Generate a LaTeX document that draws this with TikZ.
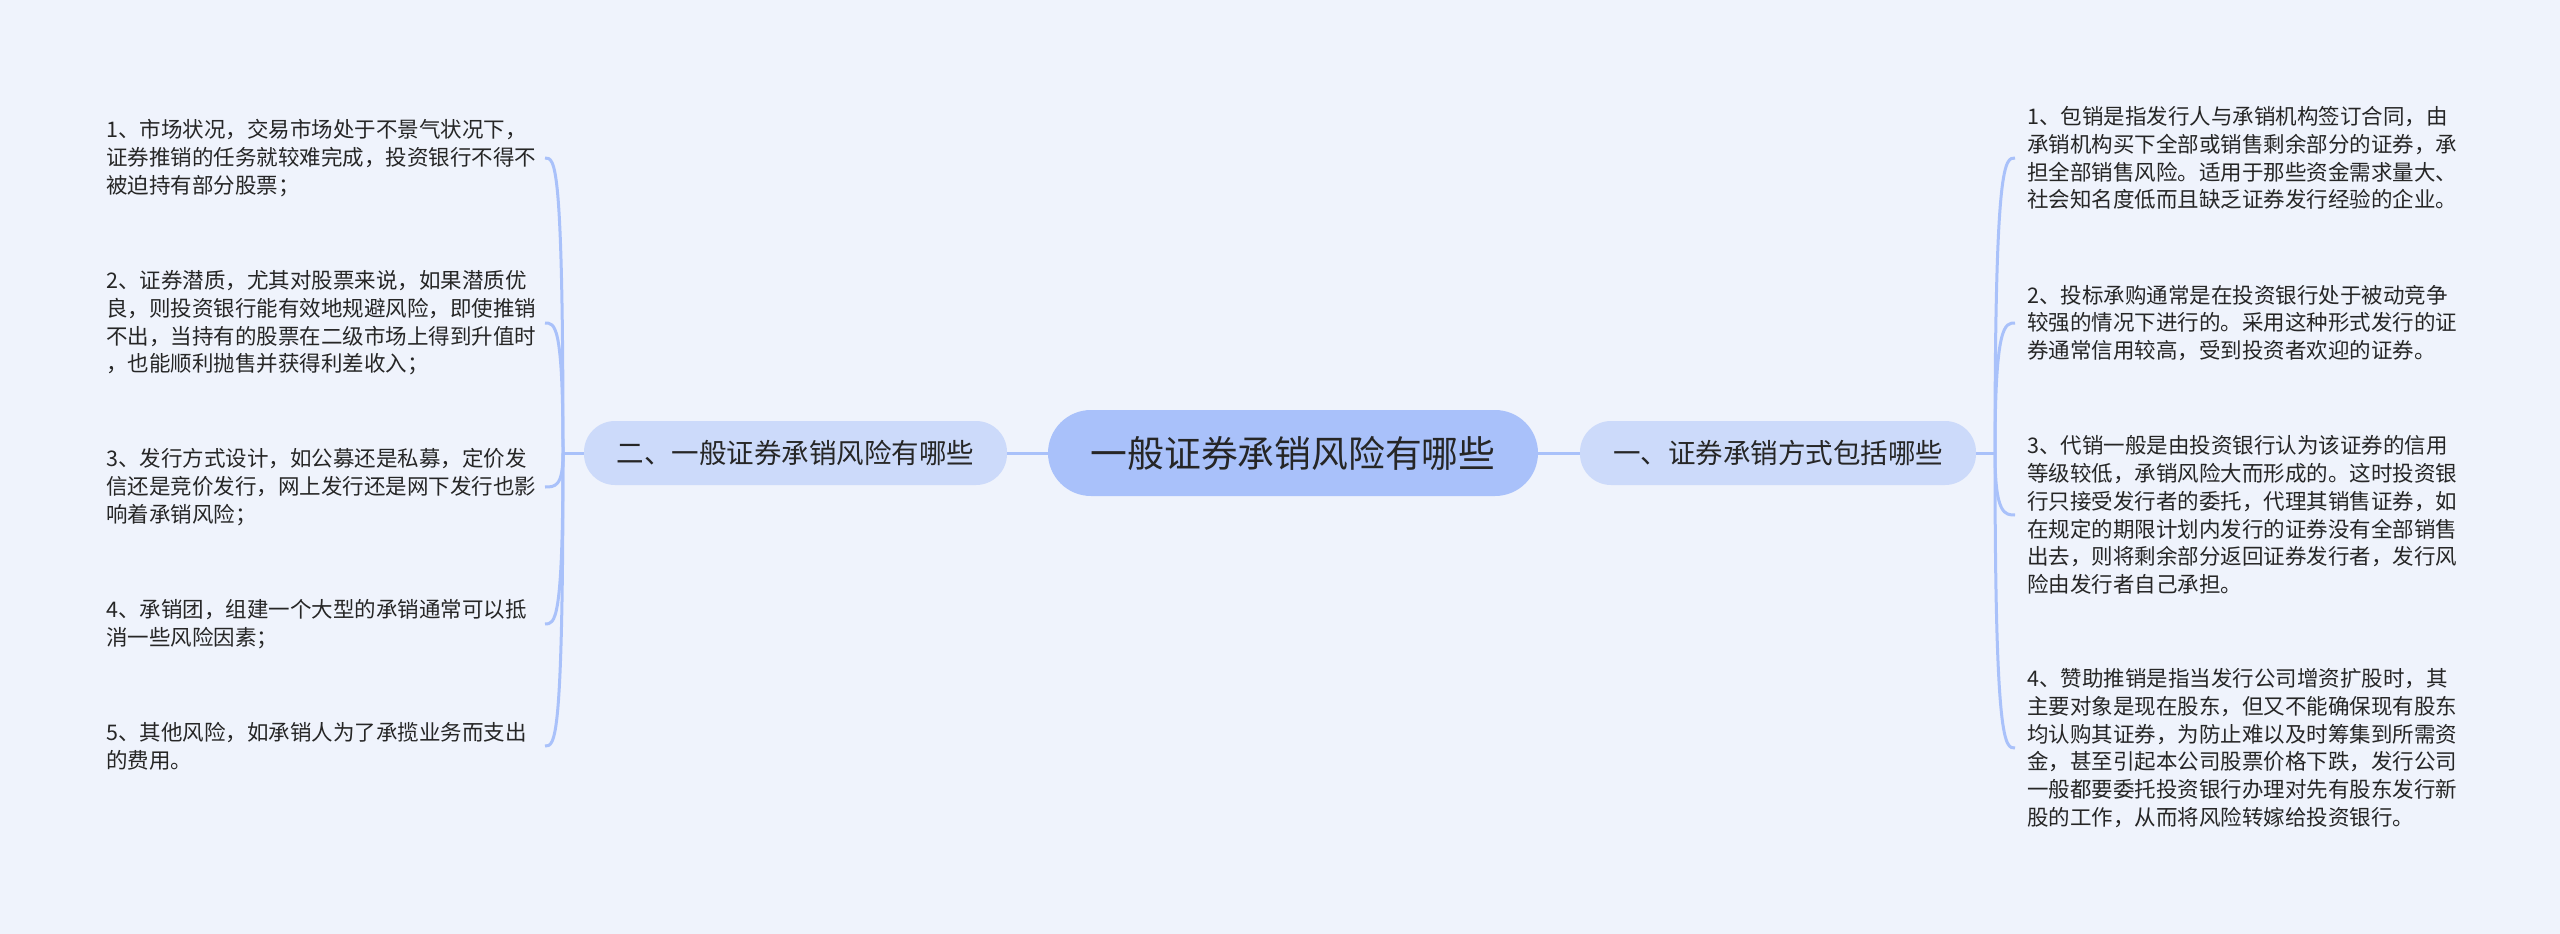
\documentclass[tikz,border=0pt]{standalone}
\usepackage{fontspec}
\setmainfont{Noto Sans CJK SC}
\definecolor{bgc}{HTML}{EFF3FC}
\definecolor{rootc}{HTML}{A9C1FA}
\definecolor{subc}{HTML}{CCDAFA}
\definecolor{linec}{HTML}{A9C1FA}
\definecolor{txtc}{HTML}{262626}
\tikzset{
  rootbox/.style={fill=rootc, rounded corners=43pt, minimum width=490pt, minimum height=86pt, inner sep=0pt, text=txtc, font=\fontsize{36.8}{40}\selectfont},
  subbox/.style={fill=subc, rounded corners=31pt, minimum height=64pt, inner sep=0pt, text=txtc, font=\fontsize{27.5}{30}\selectfont},
  leafleft/.style={anchor=east, text width=433pt, inner xsep=5.5pt, inner ysep=0pt, align=left, text=txtc, font=\fontsize{21.5}{27.7}\selectfont},
  leafright/.style={anchor=west, text width=440pt, inner xsep=12pt, inner ysep=0pt, align=left, text=txtc, font=\fontsize{21.5}{27.7}\selectfont},
  link/.style={draw=linec, line width=3pt},
}
\begin{document}
\begin{tikzpicture}[x=1pt,y=-1pt]
\fill[bgc] (0,0) rectangle (2560,934);
\useasboundingbox (0,0) rectangle (2560,934);

\node[rootbox] (root) at (1293,453) {一般证券承销风险有哪些};
\node[subbox, minimum width=423pt] (lb) at (795.5,453) {二、一般证券承销风险有哪些};
\node[subbox, minimum width=396pt] (rb) at (1778,453) {一、证券承销方式包括哪些};

\draw[link] (root.west) -- (lb.east);
\draw[link] (root.east) -- (rb.west);

\coordinate (lt) at (563,453);
\coordinate (rt) at (1995,453);
\draw[link] (lb.west) -- (lt);
\draw[link] (rb.east) -- (rt);

\node[leafleft] (L1) at (545,158) {1、市场状况，交易市场处于不景气状况下，\\证券推销的任务就较难完成，投资银行不得不\\被迫持有部分股票；};
\node[leafleft] (L2) at (545,323) {2、证券潜质，尤其对股票来说，如果潜质优\\良，则投资银行能有效地规避风险，即使推销\\不出，当持有的股票在二级市场上得到升值时\\，也能顺利抛售并获得利差收入；};
\node[leafleft] (L3) at (545,487) {3、发行方式设计，如公募还是私募，定价发\\信还是竞价发行，网上发行还是网下发行也影\\响着承销风险；};
\node[leafleft] (L4) at (545,624) {4、承销团，组建一个大型的承销通常可以抵\\消一些风险因素；};
\node[leafleft] (L5) at (545,746) {5、其他风险，如承销人为了承揽业务而支出\\的费用。};

\node[leafright] (R1) at (2015,158) {1、包销是指发行人与承销机构签订合同，由\\承销机构买下全部或销售剩余部分的证券，承\\担全部销售风险。适用于那些资金需求量大、\\社会知名度低而且缺乏证券发行经验的企业。};
\node[leafright] (R2) at (2015,323) {2、投标承购通常是在投资银行处于被动竞争\\较强的情况下进行的。采用这种形式发行的证\\券通常信用较高，受到投资者欢迎的证券。};
\node[leafright] (R3) at (2015,515) {3、代销一般是由投资银行认为该证券的信用\\等级较低，承销风险大而形成的。这时投资银\\行只接受发行者的委托，代理其销售证券，如\\在规定的期限计划内发行的证券没有全部销售\\出去，则将剩余部分返回证券发行者，发行风\\险由发行者自己承担。};
\node[leafright] (R4) at (2015,748) {4、赞助推销是指当发行公司增资扩股时，其\\主要对象是现在股东，但又不能确保现有股东\\均认购其证券，为防止难以及时筹集到所需资\\金，甚至引起本公司股票价格下跌，发行公司\\一般都要委托投资银行办理对先有股东发行新\\股的工作，从而将风险转嫁给投资银行。};

\foreach \n in {L1,L2,L3,L4,L5}{
  \draw[link] (lt) .. controls (lt |- \n.east) and ([xshift=10pt]\n.east) .. (\n.east);
}
\foreach \n in {R1,R2,R3,R4}{
  \draw[link] (rt) .. controls (rt |- \n.west) and ([xshift=-10pt]\n.west) .. (\n.west);
}
\end{tikzpicture}
\end{document}
